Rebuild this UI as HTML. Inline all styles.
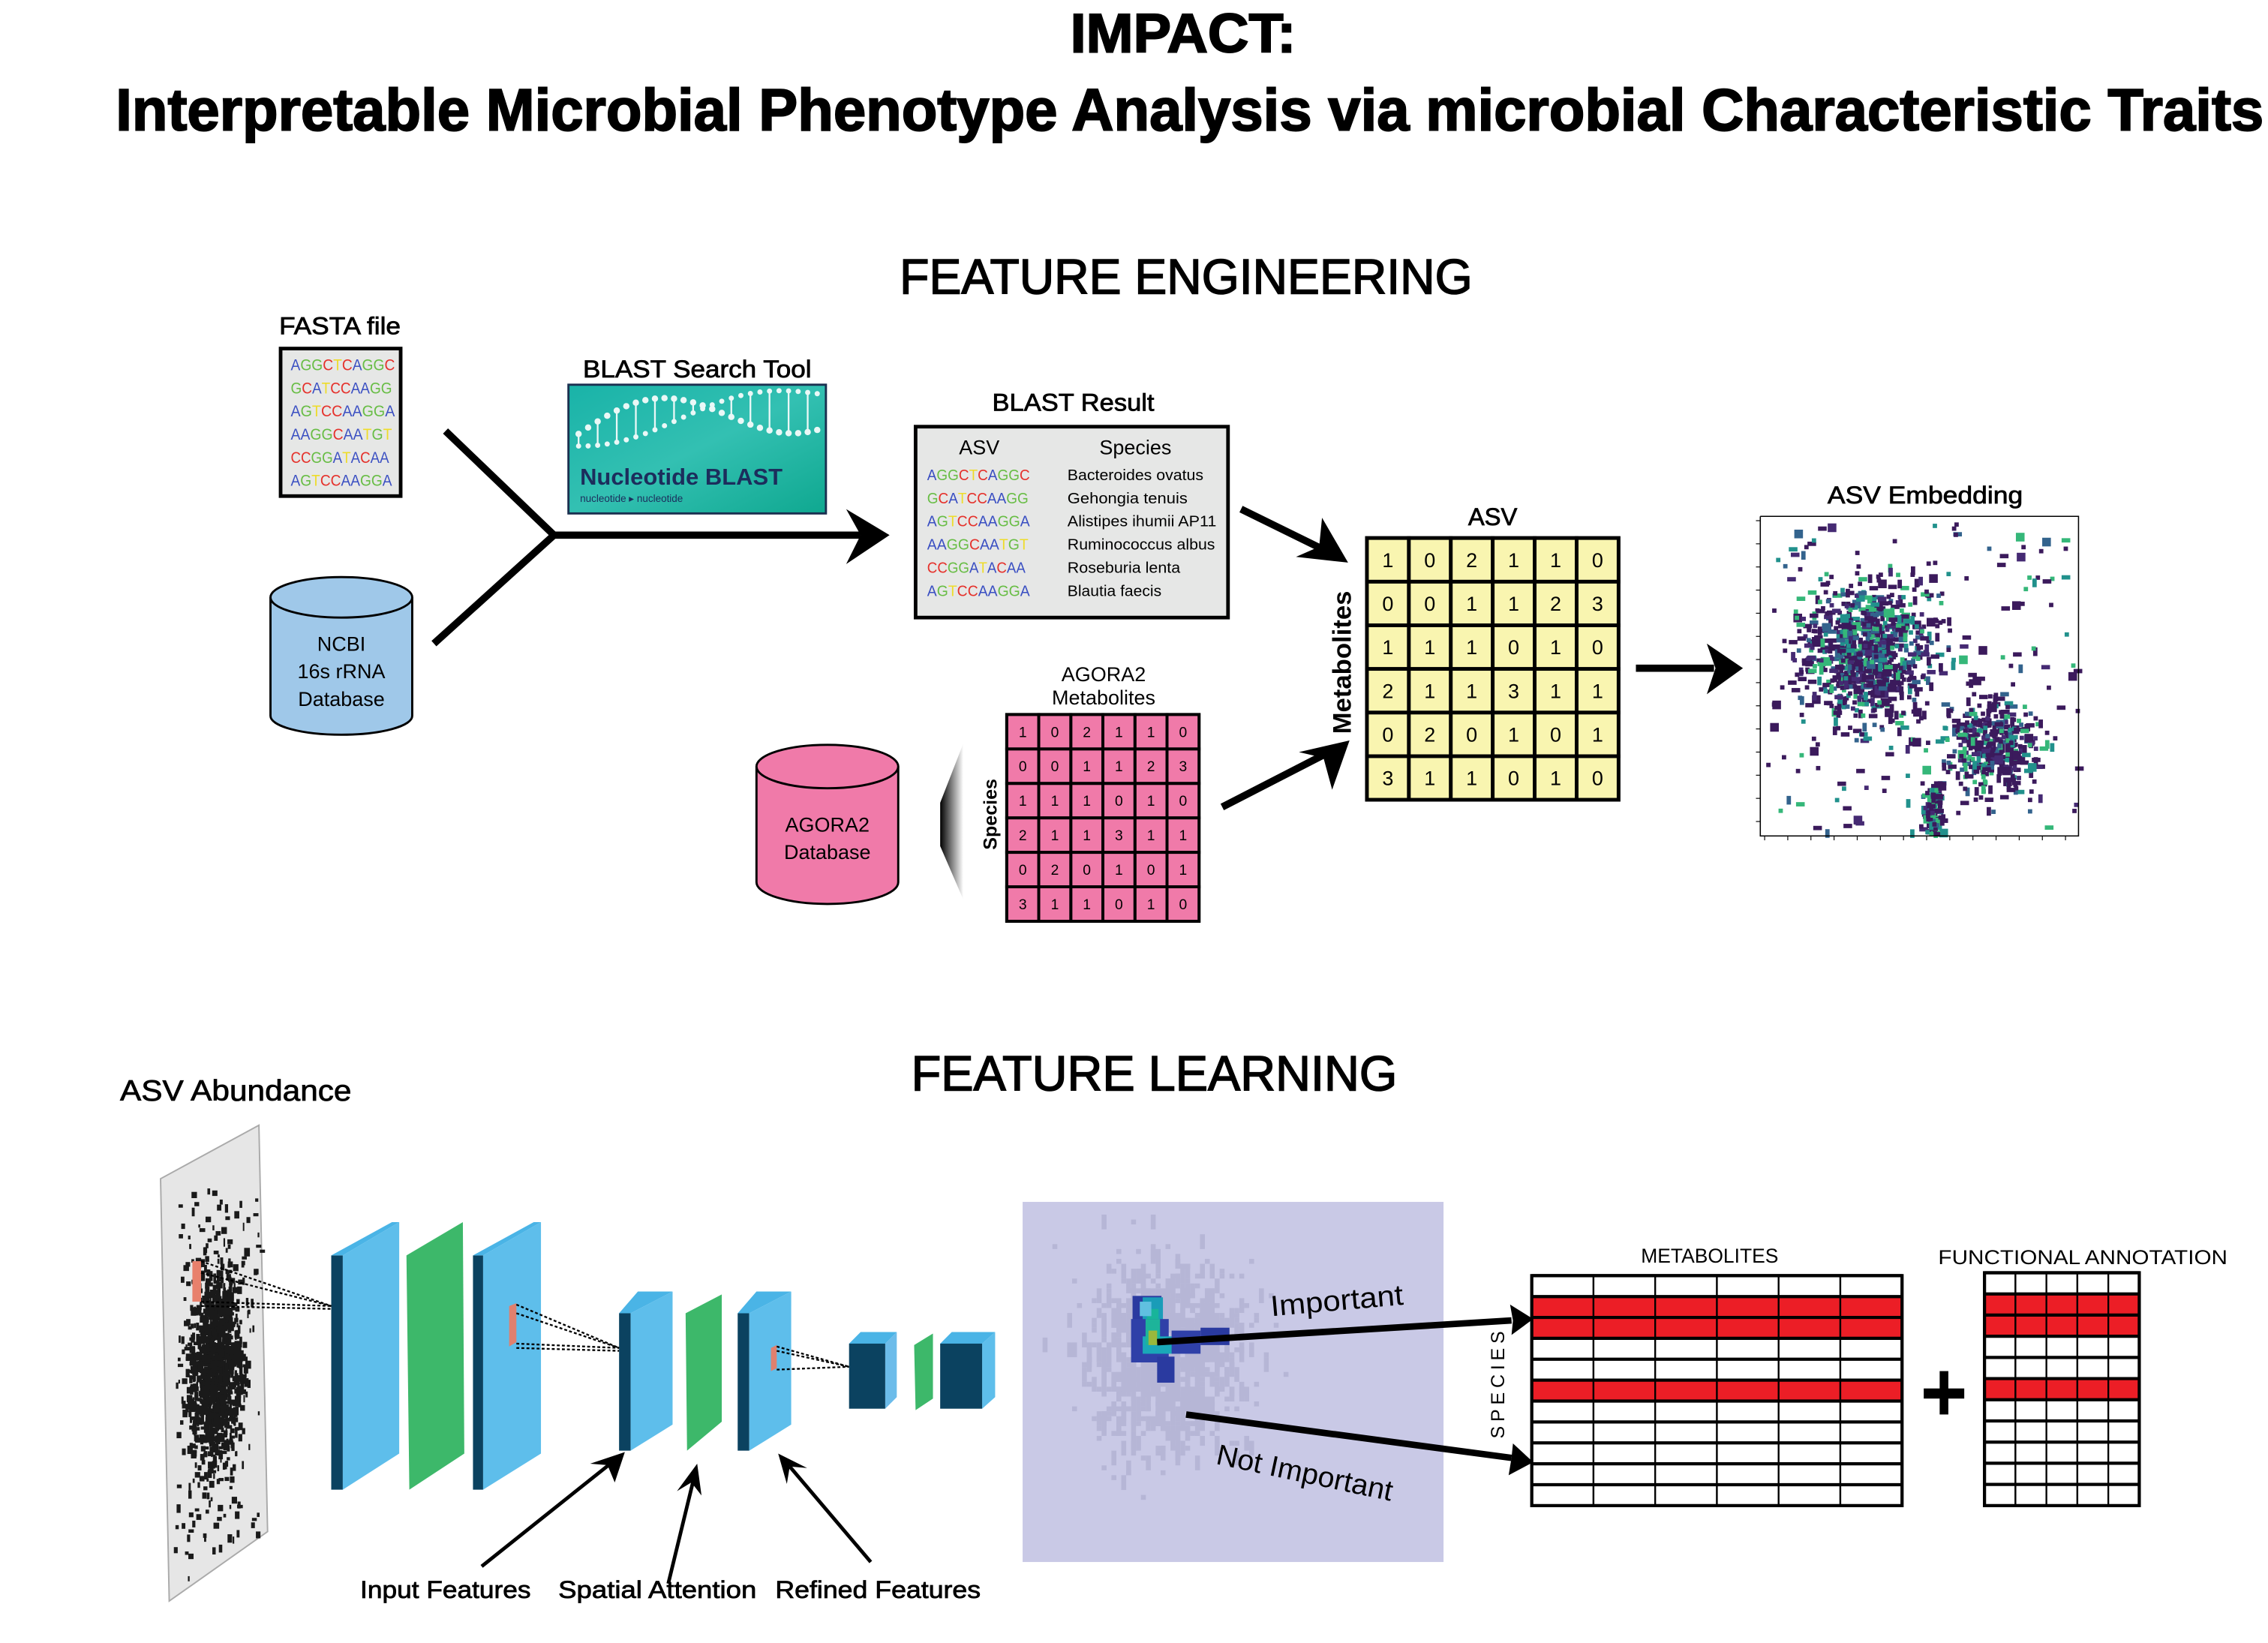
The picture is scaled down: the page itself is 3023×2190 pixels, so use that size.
<!DOCTYPE html>
<html><head><meta charset="utf-8"><style>
html,body{margin:0;padding:0;background:#fff;}
svg{display:block;}
text{font-family:"Liberation Sans",sans-serif;}
.b{font-weight:bold;}
</style></head><body>
<svg id="s" width="3023" height="2190" viewBox="0 0 1568 1136" preserveAspectRatio="none" xmlns="http://www.w3.org/2000/svg">
<defs>
<linearGradient id="teal" x1="0" y1="0" x2="1" y2="1"><stop offset="0" stop-color="#19b3a8"/><stop offset="0.5" stop-color="#33c0b2"/><stop offset="1" stop-color="#0fa890"/></linearGradient>
<linearGradient id="wedge" x1="0" y1="0" x2="1" y2="0"><stop offset="0" stop-color="#000"/><stop offset="1" stop-color="#fff"/></linearGradient>
</defs>

<!-- titles -->
<text x="818" y="36" text-anchor="middle" class="b" font-size="38" textLength="156" lengthAdjust="spacingAndGlyphs" stroke="#000" stroke-width="1">IMPACT:</text>
<text x="80" y="90" class="b" font-size="41" textLength="1485" lengthAdjust="spacingAndGlyphs" stroke="#000" stroke-width="1">Interpretable Microbial Phenotype Analysis via microbial Characteristic Traits</text>
<text x="622" y="203" font-size="34" textLength="396" lengthAdjust="spacingAndGlyphs" stroke="#000" stroke-width="0.8">FEATURE ENGINEERING</text>

<!-- FASTA -->
<text x="235" y="231" text-anchor="middle" font-size="17" textLength="84" lengthAdjust="spacingAndGlyphs" stroke="#000" stroke-width="0.4">FASTA file</text>
<rect x="194" y="241" width="83" height="102" fill="#e6e7e6" stroke="#000" stroke-width="2.5"/>
<g font-size="11">
<text class="seq" x="201" y="256" textLength="72" lengthAdjust="spacingAndGlyphs">AGGCTCAGGC</text>
<text class="seq" x="201" y="272" textLength="70" lengthAdjust="spacingAndGlyphs">GCATCCAAGG</text>
<text class="seq" x="201" y="288" textLength="72" lengthAdjust="spacingAndGlyphs">AGTCCAAGGA</text>
<text class="seq" x="201" y="304" textLength="70" lengthAdjust="spacingAndGlyphs">AAGGCAATGT</text>
<text class="seq" x="201" y="320" textLength="68" lengthAdjust="spacingAndGlyphs">CCGGATACAA</text>
<text class="seq" x="201" y="336" textLength="70" lengthAdjust="spacingAndGlyphs">AGTCCAAGGA</text>
</g>

<!-- NCBI cylinder -->
<path d="M187,413 L187,495 A49,13 0 0 0 285,495 L285,413" fill="#9fc8e9" stroke="#000" stroke-width="1.5"/>
<ellipse cx="236" cy="413" rx="49" ry="14" fill="#9fc8e9" stroke="#000" stroke-width="1.5"/>
<g font-size="14" text-anchor="middle"><text x="236" y="450">NCBI</text><text x="236" y="469">16s rRNA</text><text x="236" y="488">Database</text></g>

<!-- merge lines -->
<polyline points="308,298 383,370 300,445" fill="none" stroke="#000" stroke-width="5"/>
<line x1="383" y1="370" x2="595" y2="370" stroke="#000" stroke-width="5"/>
<path d="M615,370 L585,352 L595,370 L585,390 z" fill="#000"/>

<!-- BLAST tool -->
<text x="482" y="261" text-anchor="middle" font-size="17" textLength="158" lengthAdjust="spacingAndGlyphs" stroke="#000" stroke-width="0.4">BLAST Search Tool</text>
<rect x="393" y="266" width="178" height="89" fill="url(#teal)" stroke="#1a3050" stroke-width="1.5"/>
<g fill="#fff" opacity="0.9" id="dna"></g>
<text x="401" y="335" class="b" font-size="16" fill="#1c2d5c" textLength="140" lengthAdjust="spacingAndGlyphs">Nucleotide BLAST</text>
<text x="401" y="347" font-size="7" fill="#1c2d5c">nucleotide ▸ nucleotide</text>

<!-- BLAST Result -->
<text x="742" y="284" text-anchor="middle" font-size="17" textLength="112" lengthAdjust="spacingAndGlyphs" stroke="#000" stroke-width="0.4">BLAST Result</text>
<rect x="633" y="295" width="216" height="132" fill="#e6e7e6" stroke="#000" stroke-width="2.5"/>
<text x="677" y="314" text-anchor="middle" font-size="14">ASV</text>
<text x="785" y="314" text-anchor="middle" font-size="14">Species</text>
<g font-size="10.5">
<text class="seq" x="641" y="332" textLength="71" lengthAdjust="spacingAndGlyphs">AGGCTCAGGC</text>
<text class="seq" x="641" y="348" textLength="70" lengthAdjust="spacingAndGlyphs">GCATCCAAGG</text>
<text class="seq" x="641" y="364" textLength="71" lengthAdjust="spacingAndGlyphs">AGTCCAAGGA</text>
<text class="seq" x="641" y="380" textLength="70" lengthAdjust="spacingAndGlyphs">AAGGCAATGT</text>
<text class="seq" x="641" y="396" textLength="68" lengthAdjust="spacingAndGlyphs">CCGGATACAA</text>
<text class="seq" x="641" y="412" textLength="71" lengthAdjust="spacingAndGlyphs">AGTCCAAGGA</text>
<text x="738" y="332" textLength="94" lengthAdjust="spacingAndGlyphs">Bacteroides ovatus</text>
<text x="738" y="348" textLength="83" lengthAdjust="spacingAndGlyphs">Gehongia tenuis</text>
<text x="738" y="364" textLength="103" lengthAdjust="spacingAndGlyphs">Alistipes ihumii AP11</text>
<text x="738" y="380" textLength="102" lengthAdjust="spacingAndGlyphs">Ruminococcus albus</text>
<text x="738" y="396" textLength="78" lengthAdjust="spacingAndGlyphs">Roseburia lenta</text>
<text x="738" y="412" textLength="65" lengthAdjust="spacingAndGlyphs">Blautia faecis</text>
</g>

<!-- arrows into ASV -->
<line x1="858" y1="352" x2="915" y2="380" stroke="#000" stroke-width="5"/>
<path d="M932,389 L896,385 L912,378 L914,358 z" fill="#000"/>
<line x1="845" y1="558" x2="915" y2="522" stroke="#000" stroke-width="5"/>
<path d="M933,512 L921,546 L915,524 L898,520 z" fill="#000"/>

<!-- ASV grid -->
<text x="1032" y="363" text-anchor="middle" font-size="17" stroke="#000" stroke-width="0.4">ASV</text>
<text transform="translate(934,458) rotate(-90)" text-anchor="middle" class="b" font-size="18">Metabolites</text>
<g id="asvgrid"></g>

<!-- arrow to embedding -->
<line x1="1131" y1="462" x2="1185" y2="462" stroke="#000" stroke-width="5"/>
<path d="M1205,462 L1180,445 L1186,462 L1180,480 z" fill="#000"/>

<!-- embedding -->
<text x="1331" y="348" text-anchor="middle" font-size="17" textLength="135" lengthAdjust="spacingAndGlyphs" stroke="#000" stroke-width="0.4">ASV Embedding</text>
<g id="emb"></g>
<polyline points="1217,357 1217,578 1437,578 1437,357 1217,357" fill="none" stroke="#000" stroke-width="0.8"/>

<!-- AGORA2 -->
<path d="M523,530 L523,610 A49,15 0 0 0 621,610 L621,530" fill="#f07aa9" stroke="#000" stroke-width="1.5"/>
<ellipse cx="572" cy="530" rx="49" ry="15" fill="#f07aa9" stroke="#000" stroke-width="1.5"/>
<g font-size="14" text-anchor="middle"><text x="572" y="575">AGORA2</text><text x="572" y="594">Database</text></g>
<polygon points="666,514 650,555 650,585 666,622" fill="url(#wedge)"/>
<text x="763" y="471" text-anchor="middle" font-size="14">AGORA2</text>
<text x="763" y="487" text-anchor="middle" font-size="14">Metabolites</text>
<text transform="translate(689,563) rotate(-90)" text-anchor="middle" class="b" font-size="13">Species</text>
<g id="pinkgrid"></g>

<!-- FEATURE LEARNING -->
<text x="630" y="754" font-size="34" textLength="336" lengthAdjust="spacingAndGlyphs" stroke="#000" stroke-width="0.8">FEATURE LEARNING</text>
<text x="83" y="761" font-size="20" textLength="160" lengthAdjust="spacingAndGlyphs" stroke="#000" stroke-width="0.4">ASV Abundance</text>

<!-- abundance plane -->
<polygon points="111,815 179,778 185,1059 117,1107" fill="#e6e6e6" stroke="#aaa" stroke-width="1"/>
<g id="abd"></g>
<rect x="133" y="872" width="6" height="28" fill="#e8806c"/>

<!-- CNN slabs -->
<g id="cnn">
<polygon points="229,868 237,868 237,1030 229,1030" fill="#0b4260"/>
<polygon points="229,868 271,845 276,845 237,868" fill="#4ab4e6"/>
<polygon points="237,868 276,845 276,1005 237,1030" fill="#5ebeeb"/>
<polygon points="281,868 320,845 321,1005 283,1030" fill="#3db86a"/>
<polygon points="327,868 334,868 334,1030 327,1030" fill="#0b4260"/>
<polygon points="327,868 369,845 374,845 334,868" fill="#4ab4e6"/>
<polygon points="334,868 374,845 374,1005 334,1030" fill="#5ebeeb"/>
<polygon points="352,903 357,901 357,928 352,931" fill="#e0806e"/>

<polygon points="428,908 436,908 436,1003 428,1003" fill="#0b4260"/>
<polygon points="428,908 441,893 465,893 436,908" fill="#4ab4e6"/>
<polygon points="436,908 465,893 465,985 436,1003" fill="#5ebeeb"/>
<polygon points="474,908 499,895 499,983 475,1003" fill="#3db86a"/>
<polygon points="510,908 518,908 518,1003 510,1003" fill="#0b4260"/>
<polygon points="510,908 523,893 547,893 518,908" fill="#4ab4e6"/>
<polygon points="518,908 547,893 547,985 518,1003" fill="#5ebeeb"/>
<polygon points="533,932 537,930 537,946 533,948" fill="#e0806e"/>

<polygon points="587,929 595,921 620,921 612,929" fill="#4ab4e6"/>
<polygon points="612,929 620,921 620,966 612,974" fill="#6cbcea"/>
<rect x="587" y="929" width="25" height="45" fill="#0b4260"/>
<polygon points="632,930 645,922 645,967 633,975" fill="#3db86a"/>
<polygon points="650,929 658,921 688,921 679,929" fill="#4ab4e6"/>
<polygon points="679,929 688,921 688,966 679,974" fill="#5ebeeb"/>
<rect x="650" y="929" width="29" height="45" fill="#0b4260"/>
</g>
<g stroke="#000" stroke-width="1.2" stroke-dasharray="2,1.5" fill="none">
<line x1="139" y1="872" x2="229" y2="903"/><line x1="139" y1="880" x2="229" y2="903"/>
<line x1="139" y1="900" x2="229" y2="903"/><line x1="139" y1="903" x2="229" y2="905"/>
<line x1="357" y1="902" x2="428" y2="932"/><line x1="357" y1="908" x2="428" y2="932"/>
<line x1="357" y1="929" x2="428" y2="932"/><line x1="357" y1="932" x2="428" y2="934"/>
<line x1="537" y1="931" x2="587" y2="945"/><line x1="537" y1="934" x2="587" y2="945"/>
<line x1="537" y1="947" x2="587" y2="945"/>
</g>
<!-- label arrows -->
<g stroke="#000" stroke-width="2.5">
<line x1="333" y1="1083" x2="422" y2="1012"/>
<line x1="462" y1="1095" x2="479" y2="1025"/>
<line x1="602" y1="1080" x2="546" y2="1014"/>
</g>
<path d="M432,1004 L425,1025 L420,1013 L408,1012 z" fill="#000"/>
<path d="M482,1012 L485,1034 L478,1025 L468,1031 z" fill="#000"/>
<path d="M538,1005 L558,1015 L546,1014 L544,1026 z" fill="#000"/>
<g font-size="17" stroke="#000" stroke-width="0.4">
<text x="249" y="1105" textLength="118" lengthAdjust="spacingAndGlyphs">Input Features</text>
<text x="386" y="1105" textLength="137" lengthAdjust="spacingAndGlyphs">Spatial Attention</text>
<text x="536" y="1105" textLength="142" lengthAdjust="spacingAndGlyphs">Refined  Features</text>
</g>

<!-- heatmap -->
<rect x="707" y="831" width="291" height="249" fill="#c9c9e6"/>
<g id="heat"></g>
<line x1="800" y1="928" x2="1045" y2="913" stroke="#000" stroke-width="4.5"/>
<path d="M1060,912 L1044,902 L1046,913 L1045,923 z" fill="#000"/>
<line x1="820" y1="978" x2="1045" y2="1008" stroke="#000" stroke-width="4.5"/>
<path d="M1060,1011 L1046,998 L1045,1008 L1043,1020 z" fill="#000"/>
<text transform="translate(879,910) rotate(-5)" font-size="20" textLength="92" lengthAdjust="spacingAndGlyphs">Important</text>
<text transform="translate(840,1012) rotate(12)" font-size="20" textLength="124" lengthAdjust="spacingAndGlyphs">Not Important</text>

<!-- metabolites / functional grids -->
<text x="1182" y="873" text-anchor="middle" font-size="14" textLength="95" lengthAdjust="spacingAndGlyphs">METABOLITES</text>
<text x="1440" y="874" text-anchor="middle" font-size="14" textLength="200" lengthAdjust="spacingAndGlyphs">FUNCTIONAL ANNOTATION</text>
<text transform="translate(1040,956) rotate(-90)" text-anchor="middle" font-size="13" letter-spacing="3">SPECIES</text>
<g id="rg"></g>
<rect x="1341" y="948" width="6" height="30" fill="#000"/>
<rect x="1330" y="960" width="28" height="7" fill="#000"/>
</svg>
<script>
(function(){
var NS="http://www.w3.org/2000/svg";
function el(p,t,a,txt){var e=document.createElementNS(NS,t);for(var k in a)e.setAttribute(k,a[k]);if(txt!=null)e.textContent=txt;p.appendChild(e);return e;}
var col={A:'#3a4fc2',C:'#e5322c',G:'#68bd45',T:'#eedc2a'};
document.querySelectorAll('.seq').forEach(function(t){var s=t.textContent;t.textContent='';for(var i=0;i<s.length;i++){el(t,'tspan',{fill:col[s[i]]||'#000'},s[i]);}});
var vals=[[1,0,2,1,1,0],[0,0,1,1,2,3],[1,1,1,0,1,0],[2,1,1,3,1,1],[0,2,0,1,0,1],[3,1,1,0,1,0]];
function grid(id,x,y,w,h,fill,sw,fs){var g=document.getElementById(id);var cw=w/6,ch=h/6;
 el(g,'rect',{x:x,y:y,width:w,height:h,fill:fill,stroke:'#000','stroke-width':sw});
 for(var r=0;r<6;r++)for(var c=0;c<6;c++){el(g,'rect',{x:x+c*cw,y:y+r*ch,width:cw,height:ch,fill:'none',stroke:'#000','stroke-width':sw});
 el(g,'text',{x:x+c*cw+cw/2,y:y+r*ch+ch/2+fs*0.36,'text-anchor':'middle','font-size':fs},vals[r][c]);}}
grid('asvgrid',945,372,174,181,'#f9f5b0',2.5,14);
grid('pinkgrid',696,494,133,143,'#f07aa9',2,10);
var seed=7;function rnd(){seed=(seed*16807)%2147483647;return (seed-1)/2147483646;}
function gauss(){return (rnd()+rnd()+rnd()+rnd()-2)/2;}
// DNA dots
var dna=document.getElementById('dna');
for(var i=0;i<26;i++){var t=i/25;var x=400+t*165;var y1=300-18*Math.sin(t*5)-t*20,y2=300+10*Math.sin(t*5+1)-t*25;
 el(dna,'circle',{cx:x,cy:y1,r:2.2});el(dna,'circle',{cx:x,cy:y2,r:1.8});
 if(i%2==0)el(dna,'rect',{x:x-0.6,y:Math.min(y1,y2),width:1.2,height:Math.abs(y1-y2)});}
// embedding scatter
var emb=document.getElementById('emb');var ec=['#3b1a5c','#3b1a5c','#3b1a5c','#3b1a5c','#452a73','#3b1a5c','#33638d','#21918c','#35b779'];
for(var i=0;i<1500;i++){var x,y,r=rnd();
 if(r<0.55){x=1290+gauss()*75;y=450+gauss()*75;}
 else if(r<0.8){x=1375+gauss()*55;y=515+gauss()*55;}
 else if(r<0.88){x=1335+gauss()*12;y=540+rnd()*38;}
 else {x=1220+rnd()*215;y=360+rnd()*215;}
 if(x<1218||x>1435||y<358||y>577)continue;
 var w=rnd()<0.3?6:3;el(emb,'rect',{x:x.toFixed(1),y:y.toFixed(1),width:w,height:3+(rnd()<0.2?3:0),fill:ec[Math.floor(rnd()*ec.length)]});}
for(var k=0;k<14;k++){el(emb,'line',{x1:1214,x2:1217,y1:360+k*16,y2:360+k*16,stroke:'#000','stroke-width':0.6});el(emb,'line',{y1:578,y2:581,x1:1220+k*16,x2:1220+k*16,stroke:'#000','stroke-width':0.6});}
// abundance dots
var abd=document.getElementById('abd');
for(var i=0;i<1300;i++){var x=148+gauss()*32,y=945+gauss()*120;if(rnd()<0.12){x=120+rnd()*60;y=820+rnd()*280;}
 var top=815-(x-111)*0.54,bot=1107-(x-111)*0.65;if(x<114||x>182||y<top+4||y>bot-4)continue;
 el(abd,'rect',{x:x.toFixed(1),y:y.toFixed(1),width:1+rnd()*3,height:2+rnd()*4,fill:'#1a1a1a'});}
// heatmap
var h=document.getElementById('heat');
for(var i=0;i<900;i++){var x=805+gauss()*95,y=935+gauss()*110;if(x<708||x>995||y<832||y>1078)continue;
 el(h,'rect',{x:Math.round(x/3.4)*3.4,y:Math.round(y/3.4)*3.4,width:3.4,height:3.4+(rnd()<0.4?6.8:0),fill:'#b6b6d6'});}
var blob=[[783,896,20,20,'#2a3aa0'],[786,900,14,30,'#2a3aa0'],[790,897,14,18,'#1a9cb8'],[793,905,8,26,'#18b49a'],[796,920,6,14,'#a8b83a'],[782,912,26,30,'#2f40a8'],[790,924,26,12,'#1aa8b8'],[810,920,20,16,'#2f40a8'],[830,918,20,12,'#2a3aa0'],[800,938,12,18,'#2a3aa0'],[788,900,8,10,'#60c0e0']];
blob.forEach(function(b){el(h,'rect',{x:b[0],y:b[1],width:b[2],height:b[3],fill:b[4]});});
el(h,'rect',{x:792,y:912,width:10,height:18,fill:'#1db49a'});el(h,'rect',{x:794,y:920,width:6,height:10,fill:'#9ab83c'});
// red grids
var rg=document.getElementById('rg');
function rgrid(x,y,w,h,cols){var rows=11,cw=w/cols,ch=h/rows;for(var r=0;r<rows;r++){var red=(r==1||r==2||r==5);
 for(var c=0;c<cols;c++)el(rg,'rect',{x:x+c*cw,y:y+r*ch,width:cw,height:ch,fill:red?'#ec1e26':'#fff',stroke:'#000','stroke-width':1.2});
 el(rg,'line',{x1:x,x2:x+w,y1:y+r*ch,y2:y+r*ch,stroke:'#000','stroke-width':2.2});}
 el(rg,'rect',{x:x,y:y,width:w,height:h,fill:'none',stroke:'#000','stroke-width':2.2});}
rgrid(1059,882,256,159,6);rgrid(1372,880,107,161,5);
})();
</script>
</body></html>
